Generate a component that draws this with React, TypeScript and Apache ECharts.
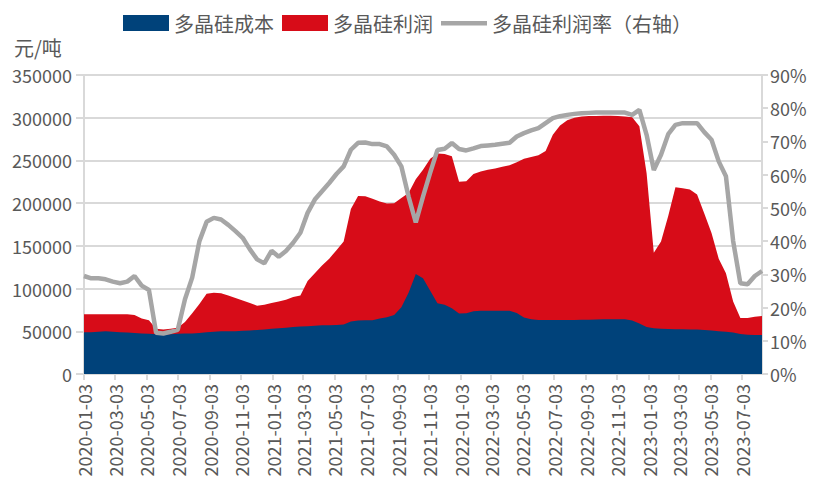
import React, { useEffect, useRef } from "react";
import * as echarts from "echarts";

const dates = [
  "2020-01-03","2020-01-17","2020-01-31","2020-02-14","2020-02-28","2020-03-13","2020-03-27","2020-04-10","2020-04-24","2020-05-08",
  "2020-05-22","2020-06-05","2020-06-19","2020-07-03","2020-07-17","2020-07-31","2020-08-14","2020-08-28","2020-09-11","2020-09-25",
  "2020-10-09","2020-10-23","2020-11-06","2020-11-20","2020-12-04","2020-12-18",
  "2021-01-01","2021-01-15","2021-01-29","2021-02-12","2021-02-26","2021-03-12","2021-03-26","2021-04-09","2021-04-23","2021-05-07",
  "2021-05-21","2021-06-04","2021-06-18","2021-07-02","2021-07-16","2021-07-30","2021-08-13","2021-08-27","2021-09-10","2021-09-24",
  "2021-10-08","2021-10-22","2021-11-05","2021-11-19","2021-12-03","2021-12-17","2021-12-31",
  "2022-01-14","2022-01-28","2022-02-11","2022-02-25","2022-03-11","2022-03-25","2022-04-08","2022-04-22","2022-05-06","2022-05-20",
  "2022-06-03","2022-06-17","2022-07-01","2022-07-15","2022-07-29","2022-08-12","2022-08-26","2022-09-09","2022-09-23","2022-10-07",
  "2022-10-21","2022-11-04","2022-11-18","2022-12-02","2022-12-16","2022-12-30",
  "2023-01-13","2023-01-27","2023-02-10","2023-02-24","2023-03-10","2023-03-24","2023-04-07","2023-04-21","2023-05-05","2023-05-19",
  "2023-06-02","2023-06-16","2023-06-30","2023-07-14","2023-07-28","2023-08-11",
];

// 多晶硅成本 (元/吨)
const costValues = [
  49000, 49000, 49500, 50000, 49500, 49000, 48500, 48000, 47500, 47000,
  46500, 46000, 46500, 47000, 47500, 47500, 48000, 49000, 49500, 50000,
  50000, 50000, 50500, 51000, 51500, 52000,
  53000, 53500, 54000, 55000, 55500, 56000, 56500, 57000, 57000, 57500,
  58000, 61500, 62500, 63000, 63000, 65000, 66500, 69000, 78000, 95000,
  117000, 112000, 97500, 82800, 81000, 77000, 70800,
  71000, 73500, 74100, 74100, 74100, 74100, 74100, 71500, 66000, 64000,
  63200, 63200, 63200, 63200, 63200, 63200, 63500, 63500, 63800, 64000,
  64000, 64000, 64000, 62500, 59000, 55000,
  53500, 53000, 52800, 52500, 52300, 52000, 52000, 51500, 51000, 50000,
  49500, 48500, 46800, 46000, 45700, 45600,
];

// 多晶硅利润 (元/吨)
const profitValues = [
  21000, 21000, 20500, 20000, 20500, 21000, 21500, 21000, 17500, 16000,
  6500, 6000, 6500, 7000, 13500, 23500, 34000, 45000, 45500, 44500,
  42000, 39000, 35500, 32000, 28500, 29000,
  30000, 31500, 33000, 35000, 36500, 53000, 61500, 70000, 78000, 87500,
  97000, 131500, 146000, 145000, 142000, 137000, 133000, 131000, 128000, 117000,
  111000, 127000, 154500, 175200, 176500, 178000, 154200,
  154500, 160500, 162900, 164900, 166400, 168400, 170400, 176500, 186000, 190000,
  192800, 197800, 216800, 227800, 233800, 236800, 238000, 238500, 238200, 238400,
  238400, 238000, 237500, 238000, 231000, 180000,
  88500, 102000, 132200, 166000, 165200, 164000, 158000, 136500, 114000, 85000,
  68500, 36500, 18700, 19500, 21300, 22400,
];

// 多晶硅利润率 (%)
const profitRate = [
  29.5, 28.8, 28.8, 28.5, 27.8, 27.3, 27.8, 29.5, 26.6, 25.3,
  12.4, 12.2, 12.7, 13.3, 22.5, 29, 40, 45.8, 47, 46.5,
  44.9, 43, 41, 37.5, 34.5, 33.3,
  37.1, 35.3, 37, 39.5, 42.5, 48.5, 52.5, 55, 57.5, 60.2,
  62.5, 67.5, 69.6, 69.7, 69.2, 69.2, 68.5, 66, 62.5, 53.4,
  45.6, 53.4, 60.6, 67.4, 67.8, 69.5, 67.7,
  67.3, 67.9, 68.6, 68.8, 69.0, 69.3, 69.6, 71.5, 72.5, 73.3,
  74.0, 75.5, 77.0, 77.6, 78.0, 78.3, 78.5, 78.6, 78.7, 78.7,
  78.7, 78.7, 78.7, 78.0, 79.5, 72,
  61.4, 66, 72.2, 75.0, 75.5, 75.5, 75.5, 72.8, 70.5, 64,
  59.5, 40, 27.3, 27, 29.5, 31,
];

const xTickLabels = [
  "2020-01-03","2020-03-03","2020-05-03","2020-07-03","2020-09-03","2020-11-03",
  "2021-01-03","2021-03-03","2021-05-03","2021-07-03","2021-09-03","2021-11-03",
  "2022-01-03","2022-03-03","2022-05-03","2022-07-03","2022-09-03","2022-11-03",
  "2023-01-03","2023-03-03","2023-05-03","2023-07-03",
];

const legendNames = ["多晶硅成本", "多晶硅利润", "多晶硅利润率（右轴）"];

function ts(s: string): number {
  const [y, m, d] = s.split("-").map(Number);
  return Date.UTC(y, m - 1, d);
}

export default function App() {
  const ref = useRef<HTMLDivElement>(null);

  useEffect(() => {
    if (!ref.current) return;
    const chart = echarts.init(ref.current, null, { renderer: "svg" });
    const tickTs = xTickLabels.map(ts);
    const labelFor = (v: number) => {
      let best = "";
      let bd = Infinity;
      xTickLabels.forEach((l) => {
        const d = Math.abs(ts(l) - v);
        if (d < bd) {
          bd = d;
          best = l;
        }
      });
      return bd < 86400000 ? best : "";
    };
    const font = "'Noto Sans CJK SC', 'Noto Sans', sans-serif";
    const gray = "#595959";
    const axisGray = "#d9d9d9";
    const blue = "#00427a";
    const red = "#d70c18";
    const lineGray = "#a6a6a6";

    // the profit band sits on top of cost: its upper edge is cost + profit
    const stackedTop = dates.map((d, i) => [ts(d), costValues[i] + profitValues[i]]);

    chart.setOption({
      animation: false,
      textStyle: { fontFamily: font },
      legend: {
        top: 8,
        left: "center",
        itemWidth: 46,
        itemHeight: 16,
        itemGap: 8,
        textStyle: { fontSize: 20, color: gray, fontFamily: font },
        data: [
          { name: legendNames[0], icon: "rect" },
          { name: legendNames[1], icon: "rect" },
          {
            name: legendNames[2],
            icon: "path://M0,0h0.01v0.01h-0.01z M0,6h46v4.5h-46z M45.99,15.99h0.01v0.01h-0.01z",
            itemStyle: { color: lineGray },
          },
        ],
      },
      grid: { left: 84, right: 53, top: 75, bottom: 117, containLabel: false },
      xAxis: {
        type: "value",
        min: ts(dates[0]),
        max: ts(dates[dates.length - 1]),
        axisLine: { show: true, onZero: false, lineStyle: { color: axisGray, width: 2 } },
        axisTick: {
          show: true,
          customValues: tickTs,
          length: 6,
          lineStyle: { color: axisGray, width: 2 },
        },
        axisLabel: {
          customValues: tickTs,
          rotate: 90,
          fontSize: 18,
          color: gray,
          margin: 10,
          fontFamily: font,
          formatter: (v: number) => labelFor(v),
        },
        splitLine: { show: false },
      },
      yAxis: [
        {
          type: "value",
          min: 0,
          max: 350000,
          interval: 50000,
          axisLine: { show: true, lineStyle: { color: axisGray, width: 2 } },
          axisTick: { show: true, length: 8, lineStyle: { color: axisGray, width: 2 } },
          axisLabel: {
            fontSize: 18,
            color: gray,
            margin: 12,
            fontFamily: font,
            formatter: (v: number) => String(v),
          },
          splitLine: { show: true, lineStyle: { color: axisGray, width: 2 } },
        },
        {
          type: "value",
          min: 0,
          max: 90,
          interval: 10,
          position: "right",
          axisLine: { show: true, lineStyle: { color: axisGray, width: 2 } },
          axisTick: { show: true, length: 6, lineStyle: { color: axisGray, width: 2 } },
          axisLabel: { fontSize: 18, color: gray, margin: 8, formatter: "{value}%", fontFamily: font },
          splitLine: { show: false },
        },
      ],
      graphic: [
        {
          type: "text",
          left: 14,
          top: 37,
          style: { text: "元/吨", fontSize: 20, fill: gray, fontFamily: font },
        },
      ],
      series: [
        {
          name: legendNames[1],
          type: "line",
          symbol: "none",
          color: red,
          lineStyle: { width: 0 },
          areaStyle: { color: red, opacity: 1 },
          data: stackedTop,
          z: 2,
        },
        {
          name: legendNames[0],
          type: "line",
          symbol: "none",
          color: blue,
          lineStyle: { width: 0 },
          areaStyle: { color: blue, opacity: 1 },
          data: dates.map((d, i) => [ts(d), costValues[i]]),
          z: 3,
        },
        {
          name: legendNames[2],
          type: "line",
          yAxisIndex: 1,
          symbol: "none",
          color: lineGray,
          lineStyle: { width: 4.5, color: lineGray },
          data: dates.map((d, i) => [ts(d), profitRate[i]]),
          z: 4,
        },
      ],
    });
    return () => chart.dispose();
  }, []);

  return (
    <div
      ref={ref}
      style={{ position: "absolute", left: 0, top: 0, width: 815, height: 491 }}
    />
  );
}
